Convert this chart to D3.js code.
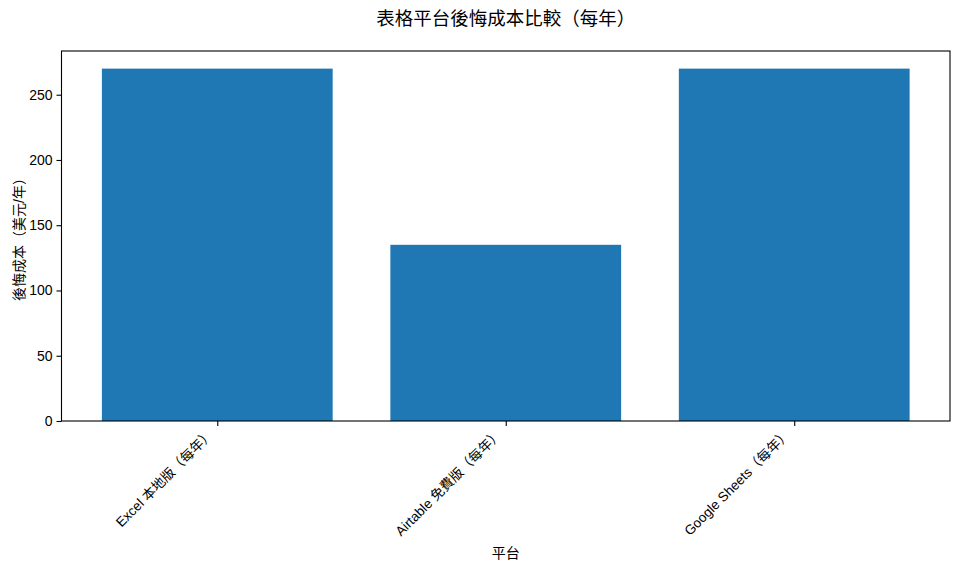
<!DOCTYPE html>
<html><head><meta charset="utf-8">
<script src="https://cdn.jsdelivr.net/npm/d3@7"></script>
<style>
body{margin:0;background:#fff;}
text{font-family:"Liberation Sans","Noto Sans CJK TC",sans-serif;fill:#000;}
</style></head>
<body><svg id="chart" width="960" height="570"></svg>
<script>
const categories = ["Excel 本地版（每年）", "Airtable 免費版（每年）", "Google Sheets（每年）"];
const regretCost = [270, 135, 270];
const yTicks = [0, 50, 100, 150, 200, 250];
const title = "表格平台後悔成本比較（每年）";
const xLabel = "平台";
const yLabel = "後悔成本（美元/年）";

const svg = d3.select("#chart");
const m = {left: 61.5, right: 950, top: 51, bottom: 421};

const x = d3.scaleLinear().domain([-0.54, 2.54]).range([m.left, m.right]);
const y = d3.scaleLinear().domain([0, 283.5]).range([m.bottom, m.top]);

svg.append("rect").attr("x",0).attr("y",0).attr("width",960).attr("height",570).attr("fill","#fff");

svg.selectAll("rect.bar").data(regretCost).enter().append("rect")
  .attr("class","bar")
  .attr("x",(d,i)=>x(i-0.4))
  .attr("width",(d,i)=>x(i+0.4)-x(i-0.4))
  .attr("y",d=>y(d))
  .attr("height",d=>y(0)-y(d))
  .attr("fill","#1f77b4");

// y axis
const yAxis = d3.axisLeft(y).tickValues(yTicks).tickSize(5).tickPadding(4).tickFormat(d3.format("d"));
const gy = svg.append("g").attr("transform",`translate(${m.left},0)`).call(yAxis);
gy.select(".domain").remove();
gy.selectAll("line").attr("stroke","#000").attr("stroke-width",1.1);
gy.selectAll("text").style("font-size","14px");

// x axis
const xAxis = d3.axisBottom(x).tickValues([0,1,2]).tickSize(5).tickFormat("");
const gx = svg.append("g").attr("transform",`translate(0,${m.bottom})`).call(xAxis);
gx.select(".domain").remove();
gx.selectAll("line").attr("stroke","#000").attr("stroke-width",1.1);

svg.selectAll("text.xl").data(categories).enter().append("text")
  .attr("class","xl")
  .attr("text-anchor","end")
  .style("font-size","13.5px")
  .attr("transform",(d,i)=>`translate(${x(i)-3},${m.bottom+14}) rotate(-45)`)
  .text(d=>d);

// frame
svg.append("rect").attr("x",m.left).attr("y",m.top).attr("width",m.right-m.left).attr("height",m.bottom-m.top)
  .attr("fill","none").attr("stroke","#000").attr("stroke-width",1.1);

svg.append("text").attr("x",(m.left+m.right)/2).attr("y",25).attr("text-anchor","middle")
  .style("font-size","18.5px").text(title);
svg.append("text").attr("x",(m.left+m.right)/2).attr("y",558).attr("text-anchor","middle")
  .style("font-size","14px").text(xLabel);
svg.append("text").attr("transform",`translate(24,${(m.top+m.bottom)/2}) rotate(-90)`).attr("text-anchor","middle")
  .style("font-size","14px").text(yLabel);
</script></body></html>
